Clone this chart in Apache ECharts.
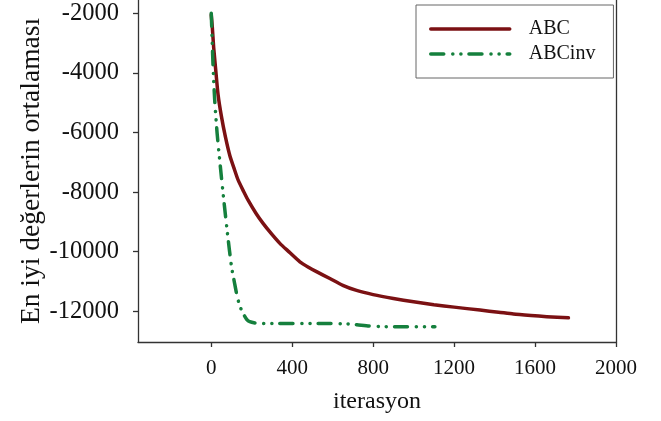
<!DOCTYPE html>
<html>
<head>
<meta charset="utf-8">
<script src="https://cdn.jsdelivr.net/npm/echarts@6/dist/echarts.min.js"></script>
<style>
html,body{margin:0;padding:0;background:#fff;}
#chart{width:661px;height:421px;}
</style>
</head>
<body>
<div id="chart"></div>
<script>
// ---- data ----
var seriesNames = ['ABC', 'ABCinv'];
var xTicks = [0, 400, 800, 1200, 1600, 2000];
var yTicks = [-12000, -10000, -8000, -6000, -4000, -2000];
var xTitle = 'iterasyon';
var yTitle = 'En iyi değerlerin ortalaması';

var abc = [
  [0,-2050],[5,-2450],[12,-3150],[22,-3900],[34,-4750],[50,-5450],[70,-6150],
  [92,-6780],[115,-7250],[133,-7600],[160,-7980],[182,-8270],[220,-8700],
  [256,-9050],[300,-9420],[339,-9720],[380,-9980],[438,-10340],[480,-10520],
  [520,-10670],[586,-10900],[650,-11130],[718,-11300],[800,-11440],[900,-11570],
  [1000,-11680],[1100,-11780],[1200,-11860],[1328,-11960],[1420,-12030],
  [1493,-12090],[1580,-12140],[1658,-12180],[1765,-12220]
];
var abcInv = [
  [0,-2000],[5,-3000],[9,-3790],[17,-4910],[29,-6030],[45,-7150],[62,-8270],
  [80,-9380],[100,-10500],[115,-11050],[125,-11400],[140,-11800],[157,-12070],
  [175,-12270],[190,-12350],[224,-12400],[300,-12410],[421,-12410],[550,-12410],
  [669,-12420],[720,-12450],[780,-12490],[834,-12510],[916,-12520],[1000,-12520],
  [1105,-12520]
];

var FONT = "'Liberation Serif','Times New Roman',serif";
var AX = '#333';
function plain(v) { return String(v); }
var chart = echarts.init(document.getElementById('chart'), null, {renderer: 'canvas'});
chart.setOption({
  animation: false,
  backgroundColor: '#fff',
  grid: {left: 138, right: 45, top: 0, bottom: 79, containLabel: false},
  legend: {
    left: 416, top: 5,
    orient: 'vertical',
    padding: [14, 18, 14, 13],
    borderColor: '#666', borderWidth: 1,
    itemWidth: 79, itemHeight: 20, itemGap: 5,
    itemStyle: {opacity: 0},
    lineStyle: {width: 3.5, cap: 'round'},
    textStyle: {fontFamily: FONT, fontSize: 20, color: '#111', lineHeight: 20, padding: [0, 0, 0, 14]},
    data: seriesNames
  },
  xAxis: {
    type: 'value', min: -362, max: 2000,
    name: xTitle, nameLocation: 'middle', nameGap: 48, nameMoveOverlap: false,
    nameTextStyle: {fontFamily: FONT, fontSize: 24, color: '#111'},
    axisLine: {show: true, onZero: false, lineStyle: {color: AX, width: 1.3}},
    axisTick: {show: true, length: 5, customValues: xTicks, lineStyle: {color: AX, width: 1.3}},
    axisLabel: {customValues: xTicks, formatter: plain, fontFamily: FONT, fontSize: 21, color: '#111', margin: 16},
    splitLine: {show: false}
  },
  yAxis: [{
    type: 'value', min: -13030, max: -1554, position: 'left',
    name: yTitle, nameLocation: 'middle', nameGap: 92, nameMoveOverlap: false,
    nameTextStyle: {fontFamily: FONT, fontSize: 27.5, color: '#111'},
    axisLine: {show: true, onZero: false, lineStyle: {color: AX, width: 1.3}},
    axisTick: {show: true, length: 5, customValues: yTicks, lineStyle: {color: AX, width: 1.3}},
    axisLabel: {customValues: yTicks, formatter: plain, fontFamily: FONT, fontSize: 24.5, color: '#111', margin: 19},
    splitLine: {show: false}
  }, {
    type: 'value', min: -13030, max: -1554, position: 'right',
    axisLine: {show: true, onZero: false, lineStyle: {color: AX, width: 1.3}},
    axisTick: {show: false}, axisLabel: {show: false}, splitLine: {show: false}
  }],
  series: [{
    name: seriesNames[0], type: 'line', data: abc, yAxisIndex: 0,
    symbol: 'none', smooth: 0.2,
    lineStyle: {color: '#7b1113', width: 3.5, cap: 'round', join: 'round'},
    itemStyle: {color: '#7b1113'}
  }, {
    name: seriesNames[1], type: 'line', data: abcInv, yAxisIndex: 0,
    symbol: 'none', smooth: 0.2,
    lineStyle: {color: '#15803d', width: 3.5, type: [13, 9, 0.1, 8, 0.1, 8], cap: 'round', join: 'round'},
    itemStyle: {color: '#15803d'}
  }]
});
</script>
</body>
</html>
